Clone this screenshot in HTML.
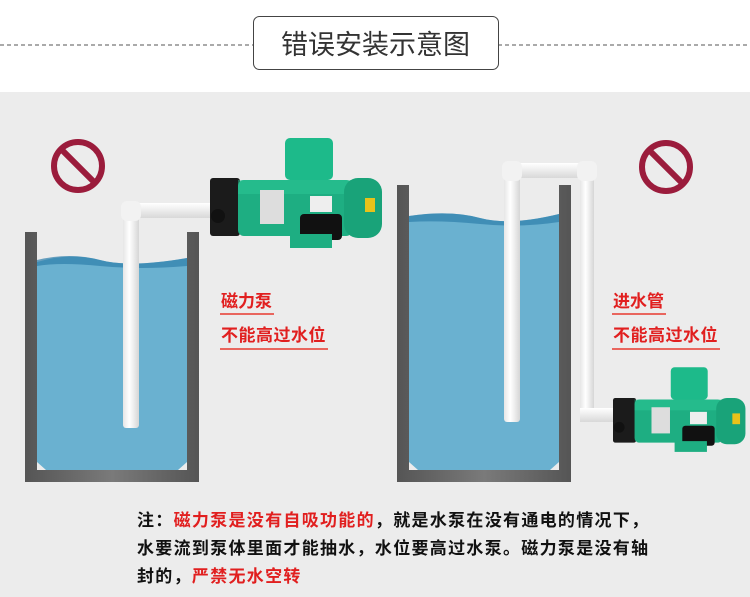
<!DOCTYPE html>
<html><head><meta charset="utf-8"><style>
html,body{margin:0;padding:0;background:#fff}
body{width:750px;height:597px;position:relative;overflow:hidden;font-family:"Liberation Sans","Noto Sans CJK SC",sans-serif}
.t{position:absolute;font-weight:bold;white-space:nowrap}
</style></head><body>
<svg width="750" height="597" style="position:absolute;left:0;top:0">
<defs>
<linearGradient id="pipeV" x1="0" x2="1"><stop offset="0" stop-color="#e6e6e6"/><stop offset=".4" stop-color="#fff"/><stop offset="1" stop-color="#d6d6d6"/></linearGradient>
<linearGradient id="pipeH" x1="0" x2="0" y1="0" y2="1"><stop offset="0" stop-color="#fff"/><stop offset="1" stop-color="#d8d8d8"/></linearGradient>
<linearGradient id="wall" x1="0" x2="1"><stop offset="0" stop-color="#555"/><stop offset=".5" stop-color="#7a7a7a"/><stop offset="1" stop-color="#555"/></linearGradient>
<g id="pump">
<rect x="0" y="0" width="30" height="58" rx="3" fill="#1b1b1b"/>
<circle cx="8" cy="38" r="7" fill="#111"/>
<rect x="28" y="2" width="114" height="56" rx="6" fill="#1eae82"/>
<rect x="28" y="2" width="114" height="14" fill="#2cc795" opacity=".5"/>
<rect x="134" y="0" width="38" height="60" rx="14" fill="#19a379"/>
<rect x="75" y="-40" width="48" height="42" rx="5" fill="#1dba8a"/>
<rect x="50" y="12" width="24" height="34" fill="#ddd"/>
<rect x="100" y="18" width="22" height="16" fill="#eee"/>
<rect x="90" y="36" width="42" height="26" rx="4" fill="#111"/>
<rect x="80" y="56" width="42" height="14" fill="#1eae82"/>
<rect x="155" y="20" width="10" height="14" fill="#e8c21a"/>
</g>
</defs>
<rect x="0" y="92" width="750" height="505" fill="#ececec"/>
<line x1="0" y1="45" x2="253" y2="45" stroke="#555" stroke-dasharray="4,3"/>
<line x1="498" y1="45" x2="750" y2="45" stroke="#555" stroke-dasharray="4,3"/>
<rect x="253.5" y="16.5" width="245" height="53" rx="6" fill="#fff" stroke="#444"/>
<text x="375.5" y="54" font-size="27" fill="#333" text-anchor="middle" font-family="Liberation Sans, Noto Sans CJK SC, sans-serif">错误安装示意图</text>
<rect x="25" y="232" width="174" height="250" fill="url(#wall)"/>
<rect x="37" y="232" width="150" height="238" fill="#ececec"/>
<path d="M37 262 Q70 252 100 260 T187 258 L187 462 L178 470 L46 470 L37 462 Z" fill="#6ab1d0"/>
<path d="M37 260 Q70 252 100 260 T187 258 L187 266 Q140 270 100 266 T37 266Z" fill="#2f7fab" opacity=".7"/>
<rect x="397" y="185" width="174" height="297" fill="url(#wall)"/>
<rect x="409" y="185" width="150" height="285" fill="#ececec"/>
<path d="M409 216 Q450 210 480 218 T559 214 L559 462 L550 470 L418 470 L409 462 Z" fill="#6ab1d0"/>
<path d="M409 216 Q450 210 480 218 T559 214 L559 222 Q520 228 480 224 T409 222Z" fill="#2f7fab" opacity=".7"/>
<rect x="123" y="203" width="16" height="225" rx="3" fill="url(#pipeV)"/>
<rect x="123" y="203" width="90" height="15" fill="url(#pipeH)"/>
<rect x="121" y="201" width="20" height="20" rx="6" fill="#f2f2f2"/>
<rect x="504" y="163" width="16" height="259" rx="3" fill="url(#pipeV)"/>
<rect x="580" y="163" width="14" height="259" fill="url(#pipeV)"/>
<rect x="504" y="163" width="90" height="15" fill="url(#pipeH)"/>
<rect x="580" y="408" width="36" height="14" fill="url(#pipeH)"/>
<rect x="502" y="161" width="20" height="20" rx="6" fill="#f2f2f2"/>
<rect x="577" y="161" width="20" height="20" rx="6" fill="#f2f2f2"/>
<use href="#pump" transform="translate(210,178)"/>
<use href="#pump" transform="translate(613,398) scale(0.77)"/>
<g fill="none" stroke="#9b1c3c" stroke-width="6">
<circle cx="78" cy="166" r="24"/><line x1="61" y1="149" x2="95" y2="183"/>
<circle cx="666" cy="167" r="24"/><line x1="649" y1="150" x2="683" y2="184"/>
</g>
<g stroke="#e8392e" stroke-width="1.5">
<line x1="220" y1="314" x2="274" y2="314"/><line x1="220" y1="349" x2="328" y2="349"/>
<line x1="612" y1="314" x2="666" y2="314"/><line x1="612" y1="349" x2="720" y2="349"/>
</g>
</svg>
<div class="t" style="left:221px;top:287px;font-size:17px;color:#e11f1f">磁力泵</div>
<div class="t" style="left:221px;top:321px;font-size:17px;color:#e11f1f;letter-spacing:0.5px">不能高过水位</div>
<div class="t" style="left:613px;top:287px;font-size:17px;color:#e11f1f">进水管</div>
<div class="t" style="left:613px;top:321px;font-size:17px;color:#e11f1f;letter-spacing:0.5px">不能高过水位</div>
<div class="t" style="left:137px;top:507px;font-size:17px;line-height:28px;color:#111;letter-spacing:1.3px">注：<span style="color:#e11f1f">磁力泵是没有自吸功能的</span>，就是水泵在没有通电的情况下，<br>水要流到泵体里面才能抽水，水位要高过水泵。磁力泵是没有轴<br>封的，<span style="color:#e11f1f">严禁无水空转</span></div>
</body></html>
